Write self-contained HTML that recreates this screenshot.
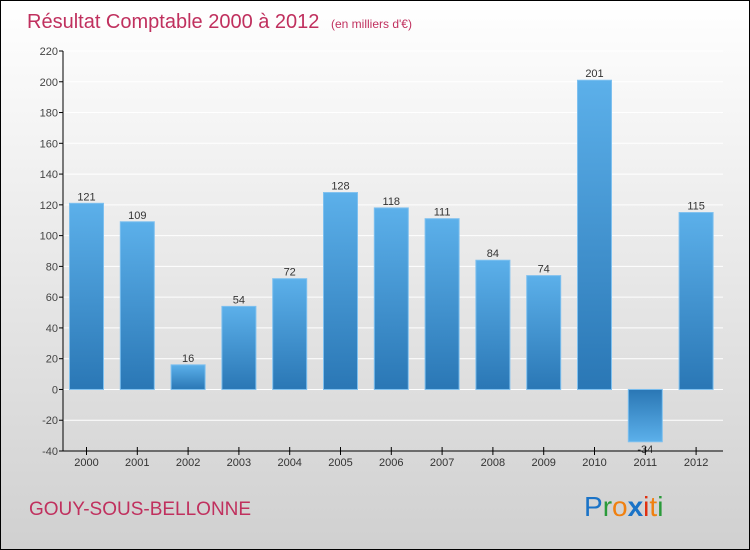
<!DOCTYPE html>
<html><head><meta charset="utf-8"><style>
body{margin:0}
#c{width:750px;height:550px;position:relative;box-sizing:border-box;border:1px solid #000;background:linear-gradient(#fff,#d0d0d0);font-family:"Liberation Sans",sans-serif;overflow:hidden}
svg text{font-family:"Liberation Sans",sans-serif}
</style></head><body>
<div id="c">
<svg width="750" height="550" id="s">
<defs>
<linearGradient id="gp" x1="0" y1="0" x2="0" y2="1"><stop offset="0" stop-color="#5cb0ea"/><stop offset="1" stop-color="#2a77b5"/></linearGradient>
<linearGradient id="gn" x1="0" y1="0" x2="0" y2="1"><stop offset="0" stop-color="#2a77b5"/><stop offset="1" stop-color="#5cb0ea"/></linearGradient>
</defs>
<text x="26" y="27" font-size="20" fill="#c0305e">Résultat Comptable 2000 à 2012 <tspan font-size="12" dx="6">(en milliers d'€)</tspan></text>
<text x="28" y="514" font-size="19" fill="#c0305e">GOUY-SOUS-BELLONNE</text>
<text x="583" y="515" font-size="28"><tspan fill="#1a73c7">P</tspan><tspan fill="#2a9a3a">r</tspan><tspan fill="#f08010">o</tspan><tspan fill="#1a73c7" font-weight="bold">x</tspan><tspan fill="#e03010">i</tspan><tspan fill="#f08010">t</tspan><tspan fill="#2a9a3a">i</tspan></text>
<g id="g"></g>
</svg>
</div>
<script>
const categories=["2000","2001","2002","2003","2004","2005","2006","2007","2008","2009","2010","2011","2012"];
const values=[121,109,16,54,72,128,118,111,84,74,201,-34,115];
const ticks=[-40,-20,0,20,40,60,80,100,120,140,160,180,200,220];
const NS="http://www.w3.org/2000/svg";
const g=document.getElementById('g');
const x0=62,x1=722,yTop=50,yBot=450,vMin=-40,vMax=220;
const y=v=>yBot-(v-vMin)/(vMax-vMin)*(yBot-yTop);
const xc=i=>85.5+i*50.8;
function mk(t,a){const e=document.createElementNS(NS,t);for(const k in a)e.setAttribute(k,a[k]);g.appendChild(e);return e;}
ticks.forEach(t=>{
 const l=mk('line',{x1:x0,x2:x1,y1:y(t),y2:y(t),stroke:'#fff','stroke-width':1});
 
 
 const tk=mk('line',{x1:x0-4,x2:x0,y1:y(t),y2:y(t),stroke:'#000'});
 
 
 const tx=mk('text',{x:x0-5,y:y(t)+4,'font-size':11,fill:'#444','text-anchor':'end'});
 tx.textContent=t;
 
 
});
values.forEach((v,i)=>{
 const top=y(Math.max(v,0)),bot=y(Math.min(v,0));
 const r=mk('rect',{x:xc(i)-17,y:top,width:34,height:bot-top,fill:v>=0?'url(#gp)':'url(#gn)',stroke:'#7ec0ef','stroke-width':1});
 
 
 const lb=mk('text',{x:xc(i),y:v>=0?top-3:bot+11,'font-size':11,fill:'#333','text-anchor':'middle'});
 lb.textContent=v;
 
 
 const tk=mk('line',{x1:xc(i),x2:xc(i),y1:yBot-4,y2:yBot+4,stroke:'#000'});
 
 
 const xl=mk('text',{x:xc(i),y:yBot+15,'font-size':11,fill:'#333','text-anchor':'middle'});
 xl.textContent=categories[i];
 
 
});
const ya=mk('line',{x1:x0,x2:x0,y1:yTop,y2:yBot,stroke:'#000'});


const xa=mk('line',{x1:x0,x2:x1,y1:yBot,y2:yBot,stroke:'#000'});


</script>
</body></html>
